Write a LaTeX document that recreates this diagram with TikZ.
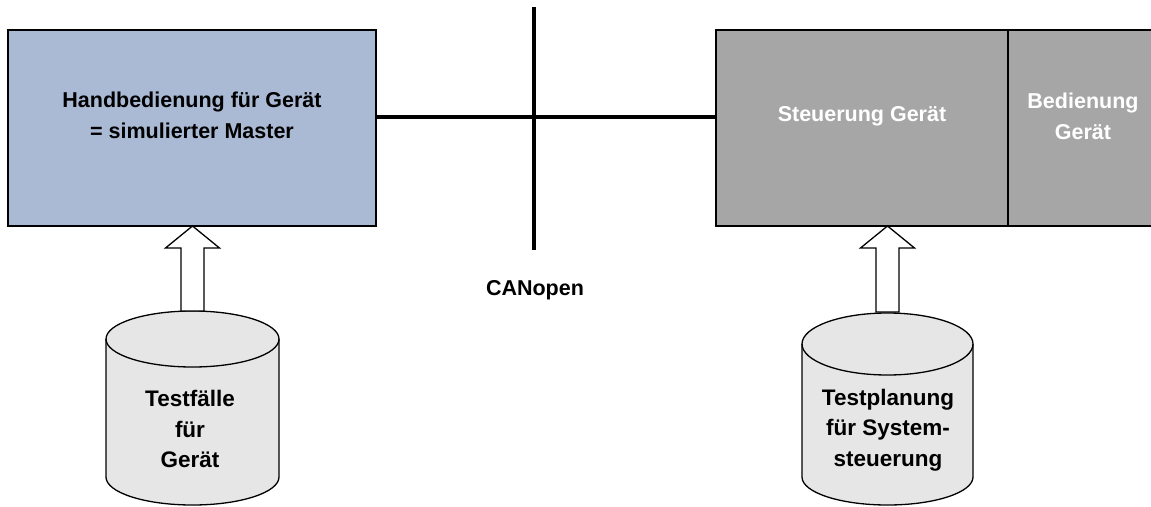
\documentclass[tikz,border=0pt]{standalone}
\usepackage{fontspec}
\setmainfont{Liberation Sans}
\usetikzlibrary{calc}
\definecolor{boxblue}{HTML}{AABAD5}
\definecolor{boxgray}{HTML}{A6A6A6}
\definecolor{cylfill}{HTML}{E6E6E6}
\tikzset{
  blockbox/.style={draw=black, line width=1.5pt, minimum height=196pt, anchor=north west, inner sep=0pt, outer sep=0pt},
  lbl/.style={font=\bfseries\fontsize{21.5}{31}\selectfont, align=center, inner sep=0pt},
  cyllbl/.style={font=\bfseries\fontsize{22.5}{30.5}\selectfont, align=center, inner sep=0pt},
  bus/.style={line width=3.5pt},
  hollowarrow/.style={draw=black, fill=white, line width=1.3pt, line join=miter},
  cylshape/.style={draw=black, fill=cylfill, line width=1.3pt}
}
\begin{document}
\begin{tikzpicture}[x=1pt,y=1pt]
\clip (0,0) rectangle (1151,-506);
\fill[white] (0,0) rectangle (1151,-506);

% boxes
\node[blockbox, fill=boxblue, minimum width=368pt] (hand) at (8,-30) {};
\node[blockbox, fill=boxgray, minimum width=292pt] (steu) at (716,-30) {};
\node[blockbox, fill=boxgray, minimum width=150pt] (bed) at (1008,-30) {};

\node[lbl] (handlbl) at (192,-115.5) {Handbedienung für Gerät\\= simulierter Master};
\node[lbl, text=white] (steulbl) at (862,-116) {Steuerung Gerät};
\node[lbl, text=white] (bedlbl) at (1083,-116) {Bedienung\\Gerät};

% bus
\coordinate (bustop) at (534,-7);
\coordinate (busbot) at (534,-250);
\coordinate (busmid) at (534,-117);
\draw[bus] (bustop) -- (busbot);
\draw[bus] (hand.east |- busmid) -- (steu.west |- busmid);
\node[font=\bfseries\fontsize{21.5}{24}\selectfont, inner sep=0pt] (canlbl) at (535,-290) {CANopen};

% cylinders
\coordinate (tftop) at (192.5,-311);
\coordinate (tptop) at (887.5,-312);

\draw[cylshape] (106,-339) -- (106,-477) arc (180:360:86.5 and 28) -- (279,-339) arc (0:180:86.5 and 28) -- cycle;
\draw[line width=1.3pt] (106,-339) arc (180:360:86.5 and 28);
\node[cyllbl] (tf) at (190,-429) {Testfälle\\für\\Gerät};

\draw[cylshape] (802,-344) -- (802,-477) arc (180:360:85.5 and 28) -- (973,-344) arc (0:180:85.5 and 31) -- cycle;
\draw[line width=1.3pt] (802,-344) arc (180:360:85.5 and 31);
\node[cyllbl] (tp) at (888,-430) {Testplanung\\für System-\\steuerung};

% hollow arrows
\draw[hollowarrow] (hand.south -| tftop) -- ++(27,-22) -- ++(-15.5,0) -- ([xshift=11.5pt]tftop) -- ([xshift=-11.5pt]tftop) -- ++(0,63) -- ++(-15.5,0) -- cycle;
\draw[hollowarrow] (steu.south -| tptop) -- ++(27,-22) -- ++(-15.5,0) -- ([xshift=11.5pt]tptop) -- ([xshift=-11.5pt]tptop) -- ++(0,64) -- ++(-15.5,0) -- cycle;
\end{tikzpicture}
\end{document}
